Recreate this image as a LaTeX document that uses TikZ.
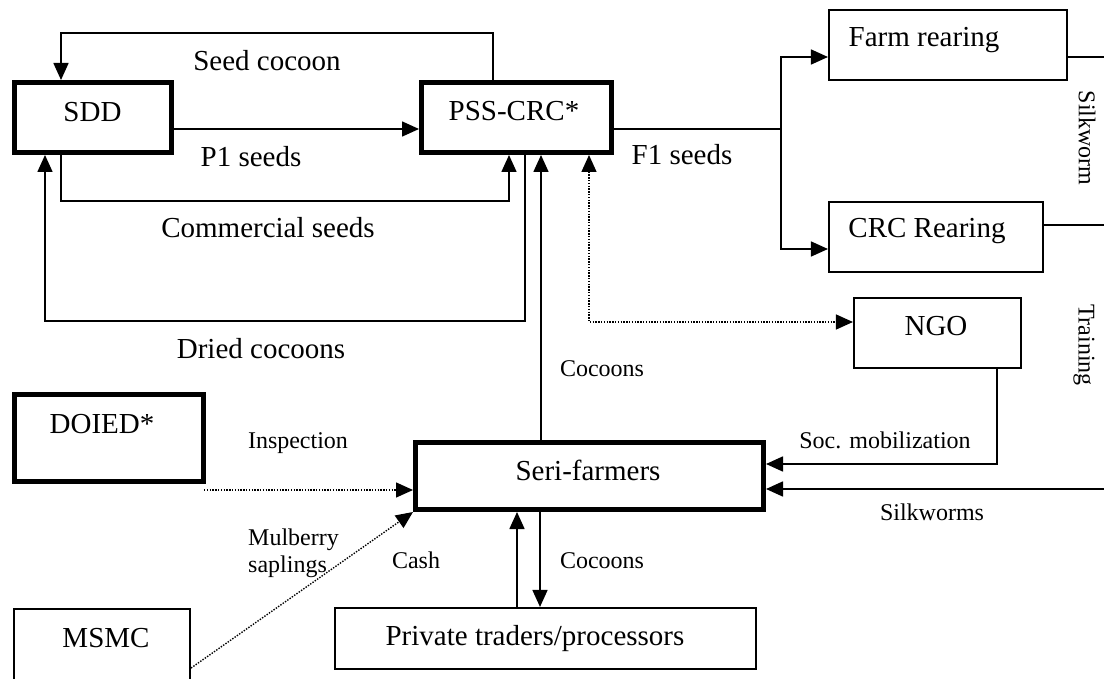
\documentclass[tikz,border=0pt]{standalone}
\usepackage{fontspec}
\setmainfont{Liberation Serif}
\usetikzlibrary{arrows.meta}
\begin{document}
\begin{tikzpicture}[x=1pt,y=-1pt,
  ln/.style={line width=1.6pt},
  tip/.tip={Triangle[length=17pt,width=15pt]},
  arr/.style={ln,-tip},
  dotln/.style={line width=1.4pt,dash pattern=on 1.4pt off 1.4pt},
  thickbox/.style={draw,line width=5pt,inner sep=0pt},
  thinbox/.style={draw,line width=1.6pt,inner sep=0pt},
  big/.style={font=\fontsize{29}{34}\selectfont,inner sep=0pt,anchor=base},
  small/.style={font=\fontsize{24}{27}\selectfont,inner sep=0pt,anchor=base},
]
\useasboundingbox (0,0) rectangle (1104,679);
\clip (0,0) rectangle (1104,679);

% boxes
\node[thickbox,minimum width=157pt,minimum height=70pt] (sdd) at (93,117.5) {};
\node[thickbox,minimum width=190pt,minimum height=70pt] (pss) at (516.5,117.5) {};
\node[thickbox,minimum width=348pt,minimum height=67pt] (seri) at (589.5,476) {};
\node[thickbox,minimum width=189pt,minimum height=87pt] (doied) at (109,438) {};
\node[thinbox,minimum width=238.5pt,minimum height=70.5pt] (farm) at (948,45) {};
\node[thinbox,minimum width=214.5pt,minimum height=70.5pt] (crc) at (936,237) {};
\node[thinbox,minimum width=167.5pt,minimum height=70.5pt] (ngo) at (937.5,333) {};
\node[thinbox,minimum width=421.5pt,minimum height=61.5pt] (traders) at (545.5,638.5) {};
\node[thinbox,minimum width=176.5pt,minimum height=110.5pt] (msmc) at (102,664) {};

% box texts
\node[big] (tsdd) at (92.5,121.7) {SDD};
\node[big] (tpss) at (514,121) {PSS-CRC*};
\node[big] (tfarm) at (924,47) {Farm rearing};
\node[big] (tcrc) at (927,238) {CRC Rearing};
\node[big] (tngo) at (936,335) {NGO};
\node[big] (tseri) at (588,480) {Seri-farmers};
\node[big] (ttr) at (535,645) {Private traders/processors};
\node[big] (tdoied) at (102,433) {DOIED*};
\node[big] (tmsmc) at (106,647) {MSMC};

% helper coordinates
\coordinate (sc) at (61,33);
\coordinate (xa) at (493,0);
\coordinate (yp1) at (0,129);
\coordinate (cs) at (509,201);
\coordinate (dc) at (45,321);
\coordinate (dcx) at (525,0);
\coordinate (ng) at (589,322);
\coordinate (fj) at (781,129);
\coordinate (fy) at (0,57);
\coordinate (cy) at (0,249);
\coordinate (e1) at (1104,57);
\coordinate (e2) at (1104,225);
\coordinate (e3) at (1104,489);
\coordinate (sm) at (997,464);
\coordinate (cu) at (541,0);
\coordinate (ca) at (517,0);
\coordinate (cd) at (540,0);
\coordinate (ip) at (204,490);
\coordinate (my) at (0,668);

% connectors
\draw[arr] (pss.north -| xa) |- (sc) -- (sdd.north -| sc);
\draw[arr] (sdd.east |- yp1) -- (pss.west |- yp1);
\draw[arr] (sdd.south -| sc) |- (cs) -- (pss.south -| cs);
\draw[arr] (pss.south -| dcx) |- (dc) -- (sdd.south -| dc);
\draw[dotln,tip-tip] (pss.south -| ng) |- (ngo.west |- ng);
\draw[ln] (pss.east |- fj) -- (fj);
\draw[arr] (fj) |- (farm.west |- fy);
\draw[arr] (fj) |- (crc.west |- cy);
\draw[ln] (farm.east |- e1) -- (e1);
\draw[ln] (crc.east |- e2) -- (e2);
\draw[arr] (e3) -- (seri.east |- e3);
\draw[arr] (ngo.south -| sm) |- (seri.east |- sm);
\draw[arr] (seri.north -| cu) -- (pss.south -| cu);
\draw[arr] (traders.north -| ca) -- (seri.south -| ca);
\draw[arr] (seri.south -| cd) -- (traders.north -| cd);
\draw[dotln,-tip] (ip) -- (seri.west |- ip);
\draw[dotln,-tip] (msmc.east |- my) -- (seri.south west);

% labels
\node[big] (lsc) at (267,70.7) {Seed cocoon};
\node[big] (lp1) at (251,166.7) {P1 seeds};
\node[big] (lcs) at (268,238) {Commercial seeds};
\node[big] (ldc) at (261,358) {Dried cocoons};
\node[big] (lf1) at (682,165) {F1 seeds};
\node[small] (lin) at (298,448) {Inspection};
\node[small,anchor=base west] (lmu1) at (248,545) {Mulberry};
\node[small,anchor=base west] (lmu2) at (248,572) {saplings};
\node[small] (lca) at (416,568) {Cash};
\node[small] (lco1) at (602,377) {Cocoons};
\node[small] (lco2) at (602,568) {Cocoons};
\node[small] (lsm) at (885,448) {Soc. mobilization};
\node[small] (lsw) at (932,520) {Silkworms};
\node[small,anchor=center,rotate=-90] (lsk) at (1087,138) {Silkworm};
\node[small,anchor=center,rotate=-90] (ltr) at (1084,345) {Training};
\end{tikzpicture}
\end{document}
